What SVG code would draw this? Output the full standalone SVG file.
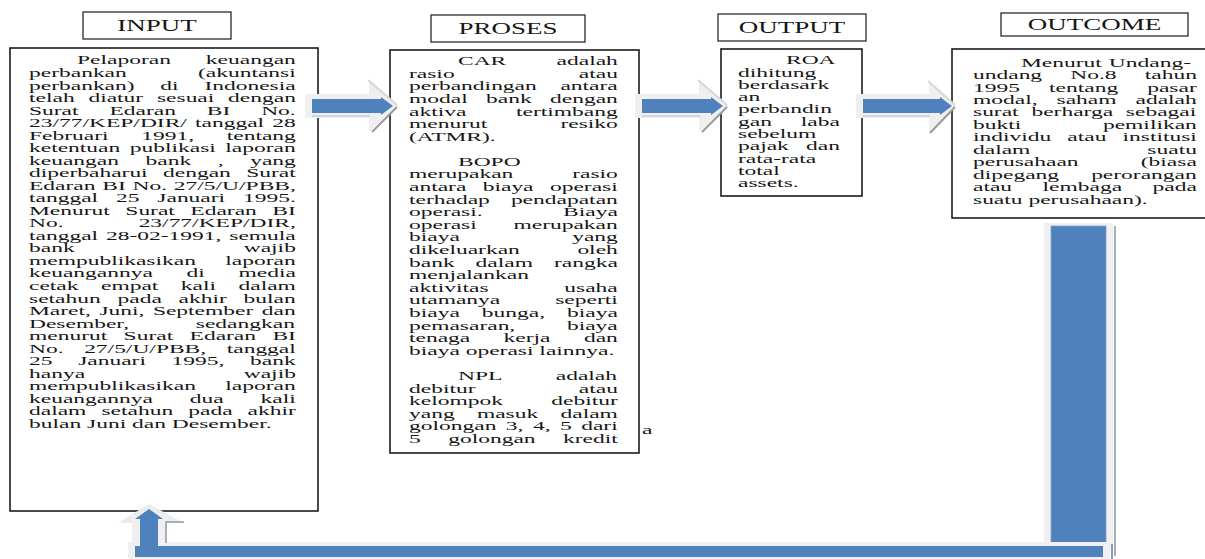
<svg xmlns="http://www.w3.org/2000/svg" width="1205" height="559" viewBox="0 0 1205 559">
<style>
.t{font-family:"Liberation Serif","Times New Roman",serif;font-size:23.5px;fill:#161616}
.h{font-family:"Liberation Serif","Times New Roman",serif;font-size:27px;fill:#161616;text-anchor:middle}
.box{fill:#fff;stroke:#1c1c1c;stroke-width:1.6}
.hbox{fill:#fff;stroke:#2a2a2a;stroke-width:1.3}
.blue{fill:#4f81bd}
.bk{fill:#efefef}
</style>
<defs>
<g id="rarrow">
<polygon class="bk" points="-7,-12 57,-12 57,-26 86,0 57,26 57,12 -7,12"/>
<line x1="56" y1="-26" x2="85" y2="-1" stroke="#d6d6d6" stroke-width="2"/>
<line x1="85" y1="1" x2="60" y2="26" stroke="#9a9a9a" stroke-width="2"/>
<line x1="0" y1="10" x2="58" y2="10" stroke="#c9cdd6" stroke-width="1.5"/>
<polygon class="blue" points="0,-7 69,-7 69,-9 81,0 69,9 69,7 0,7"/>
</g>
</defs>
<rect width="1205" height="559" fill="#fff"/>

<g id="input-label">
<rect class="hbox" x="83" y="12" width="148" height="27"/>
<g transform="scale(1,0.6)"><text class="h" x="157" y="51.7">INPUT</text></g>
</g>
<g id="proses-label">
<rect class="hbox" x="431" y="15" width="154" height="27"/>
<g transform="scale(1,0.6)"><text class="h" x="508" y="56.7">PROSES</text></g>
</g>
<g id="output-label">
<rect class="hbox" x="718" y="14" width="148" height="27"/>
<g transform="scale(1,0.6)"><text class="h" x="792" y="55">OUTPUT</text></g>
</g>
<g id="outcome-label">
<rect class="hbox" x="1001" y="13" width="187" height="23"/>
<g transform="scale(1,0.6)"><text class="h" x="1094.5" y="50">OUTCOME</text></g>
</g>

<g id="input">
<rect class="box" x="10" y="48" width="308" height="463"/>
<g transform="scale(1,0.5)">
<text class="t" x="77" y="129" style="word-spacing:29.1px">Pelaporan keuangan</text>
<text class="t" x="29" y="154.1" style="word-spacing:65.3px">perbankan (akuntansi</text>
<text class="t" x="29" y="179.1" style="word-spacing:19.9px">perbankan) di Indonesia</text>
<text class="t" x="29" y="204.2" style="word-spacing:7.9px">telah diatur sesuai dengan</text>
<text class="t" x="29" y="229.2" style="word-spacing:25px">Surat Edaran BI No.</text>
<text class="t" x="29" y="254.3" style="word-spacing:2.3px">23/77/KEP/DIR/ tanggal 28</text>
<text class="t" x="29" y="279.4" style="word-spacing:26.8px">Februari 1991, tentang</text>
<text class="t" x="29" y="304.4" style="word-spacing:3.6px">ketentuan publikasi laporan</text>
<text class="t" x="29" y="329.5" style="word-spacing:20.7px">keuangan bank , yang</text>
<text class="t" x="29" y="354.5" style="word-spacing:9.5px">diperbaharui dengan Surat</text>
<text class="t" x="29" y="379.6" style="word-spacing:0.9px">Edaran BI No. 27/5/U/PBB,</text>
<text class="t" x="29" y="404.7" style="word-spacing:12px">tanggal 25 Januari 1995.</text>
<text class="t" x="29" y="429.7" style="word-spacing:9.6px">Menurut Surat Edaran BI</text>
<text class="t" x="29" y="454.8" style="word-spacing:69.2px">No. 23/77/KEP/DIR,</text>
<text class="t" x="29" y="479.8" style="word-spacing:2px">tanggal 28-02-1991, semula</text>
<text class="t" x="29" y="504.9" style="word-spacing:163.2px">bank wajib</text>
<text class="t" x="29" y="530" style="word-spacing:23.5px">mempublikasikan laporan</text>
<text class="t" x="29" y="555" style="word-spacing:27.8px">keuangannya di media</text>
<text class="t" x="29" y="580.1" style="word-spacing:16.6px">cetak empat kali dalam</text>
<text class="t" x="29" y="605.1" style="word-spacing:10.9px">setahun pada akhir bulan</text>
<text class="t" x="29" y="630.2" style="word-spacing:2.6px">Maret, Juni, September dan</text>
<text class="t" x="29" y="655.3" style="word-spacing:60.8px">Desember, sedangkan</text>
<text class="t" x="29" y="680.3" style="word-spacing:10.5px">menurut Surat Edaran BI</text>
<text class="t" x="29" y="705.4" style="word-spacing:14.7px">No. 27/5/U/PBB, tanggal</text>
<text class="t" x="29" y="730.4" style="word-spacing:19.8px">25 Januari 1995, bank</text>
<text class="t" x="29" y="755.5" style="word-spacing:152.8px">hanya wajib</text>
<text class="t" x="29" y="780.6" style="word-spacing:23.5px">mempublikasikan laporan</text>
<text class="t" x="29" y="805.6" style="word-spacing:31px">keuangannya dua kali</text>
<text class="t" x="29" y="830.7" style="word-spacing:9.2px">dalam setahun pada akhir</text>
<text class="t" x="29" y="855.7">bulan Juni dan Desember.</text>
</g>
</g>

<g id="proses">
<rect class="box" x="390" y="50" width="249" height="403"/>
<g transform="scale(1,0.5)">
<text class="t" x="458" y="130.4" style="word-spacing:44.4px">CAR adalah</text>
<text class="t" x="409" y="155.6" style="word-spacing:118.3px">rasio atau</text>
<text class="t" x="409" y="180.8" style="word-spacing:17.8px">perbandingan antara</text>
<text class="t" x="409" y="205.9" style="word-spacing:12.5px">modal bank dengan</text>
<text class="t" x="409" y="231.1" style="word-spacing:43.8px">aktiva tertimbang</text>
<text class="t" x="409" y="256.3" style="word-spacing:67.3px">menurut resiko</text>
<text class="t" x="409" y="281.5">(ATMR).</text>
<text class="t" x="458" y="331.8">BOPO</text>
<text class="t" x="409" y="357" style="word-spacing:53px">merupakan rasio</text>
<text class="t" x="409" y="382.2" style="word-spacing:10.5px">antara biaya operasi</text>
<text class="t" x="409" y="407.4" style="word-spacing:15.2px">terhadap pendapatan</text>
<text class="t" x="409" y="432.6" style="word-spacing:74.6px">operasi. Biaya</text>
<text class="t" x="409" y="457.7" style="word-spacing:30.8px">operasi merupakan</text>
<text class="t" x="409" y="482.9" style="word-spacing:106.5px">biaya yang</text>
<text class="t" x="409" y="508.1" style="word-spacing:51.7px">dikeluarkan oleh</text>
<text class="t" x="409" y="533.3" style="word-spacing:15.1px">bank dalam rangka</text>
<text class="t" x="409" y="558.5">menjalankan</text>
<text class="t" x="409" y="583.6" style="word-spacing:69.9px">aktivitas usaha</text>
<text class="t" x="409" y="608.8" style="word-spacing:49.1px">utamanya seperti</text>
<text class="t" x="409" y="634" style="word-spacing:16.1px">biaya bunga, biaya</text>
<text class="t" x="409" y="659.2" style="word-spacing:45.8px">pemasaran, biaya</text>
<text class="t" x="409" y="684.4" style="word-spacing:27.5px">tenaga kerja dan</text>
<text class="t" x="409" y="709.5">biaya operasi lainnya.</text>
<text class="t" x="458" y="759.9" style="word-spacing:48.4px">NPL adalah</text>
<text class="t" x="409" y="785.1" style="word-spacing:97.4px">debitur atau</text>
<text class="t" x="409" y="810.3" style="word-spacing:42.5px">kelompok debitur</text>
<text class="t" x="409" y="835.4" style="word-spacing:16.4px">yang masuk dalam</text>
<text class="t" x="409" y="860.6" style="word-spacing:3.6px">golongan 3, 4, 5 dari</text>
<text class="t" x="409" y="885.8" style="word-spacing:21.6px">5 golongan kredit</text>
<text class="t" x="642" y="868">a</text>
</g>
</g>

<g id="output">
<rect class="box" x="721" y="49" width="141" height="147"/>
<g transform="scale(1,0.5)">
<text class="t" x="786" y="128.4">ROA</text>
<text class="t" x="738" y="153.1">dihitung</text>
<text class="t" x="738" y="177.7">berdasark</text>
<text class="t" x="738" y="202.4">an</text>
<text class="t" x="738" y="227">perbandin</text>
<text class="t" x="738" y="251.7" style="word-spacing:23px">gan laba</text>
<text class="t" x="738" y="276.4">sebelum</text>
<text class="t" x="738" y="301" style="word-spacing:11.3px">pajak dan</text>
<text class="t" x="738" y="325.7">rata-rata</text>
<text class="t" x="738" y="350.3">total</text>
<text class="t" x="738" y="375">assets.</text>
</g>
</g>

<g id="outcome">
<rect class="box" x="952" y="49" width="270" height="169"/>
<g transform="scale(1,0.5)">
<text class="t" x="1021" y="133.6" style="word-spacing:1.1px">Menurut Undang-</text>
<text class="t" x="973" y="158.5" style="word-spacing:22.3px">undang No.8 tahun</text>
<text class="t" x="973" y="183.3" style="word-spacing:23.2px">1995 tentang pasar</text>
<text class="t" x="973" y="208.2" style="word-spacing:13.1px">modal, saham adalah</text>
<text class="t" x="973" y="233" style="word-spacing:6.9px">surat berharga sebagai</text>
<text class="t" x="973" y="257.9" style="word-spacing:75.8px">bukti pemilikan</text>
<text class="t" x="973" y="282.8" style="word-spacing:10.2px">individu atau institusi</text>
<text class="t" x="973" y="307.6" style="word-spacing:111.1px">dalam suatu</text>
<text class="t" x="973" y="332.5" style="word-spacing:56.3px">perusahaan (biasa</text>
<text class="t" x="973" y="357.3" style="word-spacing:26.2px">dipegang perorangan</text>
<text class="t" x="973" y="382.2" style="word-spacing:24.6px">atau lembaga pada</text>
<text class="t" x="973" y="407.1">suatu perusahaan).</text>
</g>
</g>

<g id="connectors">
<use href="#rarrow" transform="translate(312,106)"/>
<use href="#rarrow" transform="translate(642,106)"/>
<g transform="translate(863,106)">
<polygon class="bk" points="-7,-12 66,-12 66,-25 93,0 66,26 66,12 -7,12"/>
<line x1="65" y1="-25" x2="92" y2="-1" stroke="#d6d6d6" stroke-width="2"/>
<line x1="92" y1="1" x2="67" y2="27" stroke="#9a9a9a" stroke-width="2"/>
<line x1="0" y1="10" x2="67" y2="10" stroke="#c9cdd6" stroke-width="1.5"/>
<polygon class="blue" points="0,-7 77,-7 77,-9 89,0 77,9 77,7 0,7"/>
</g>
<rect x="1044" y="223" width="69" height="327" fill="#f0f0f0"/>
<rect x="1051" y="226" width="55" height="317" class="blue" stroke="#7ea0cc" stroke-width="0.8"/>
<line x1="1115" y1="226" x2="1115" y2="556" stroke="#8c9bb3" stroke-width="1.6"/>
<rect x="128" y="542" width="982" height="17" fill="#f0f0f0"/>
<rect x="135" y="546" width="968" height="11" class="blue"/>
<line x1="1112" y1="544" x2="1112" y2="559" stroke="#8c9bb3" stroke-width="2"/>
<polygon points="118,523 149,504 184,523" fill="#ececec"/>
<rect x="132" y="515" width="34" height="31" fill="#f0f0f0"/>
<polyline points="166,543 166,522 184,522" fill="none" stroke="#a7afbd" stroke-width="2"/>
<polygon class="blue" points="140,546 140,519 135,519 149,509 163,519 158,519 158,546"/>
</g>
</svg>
